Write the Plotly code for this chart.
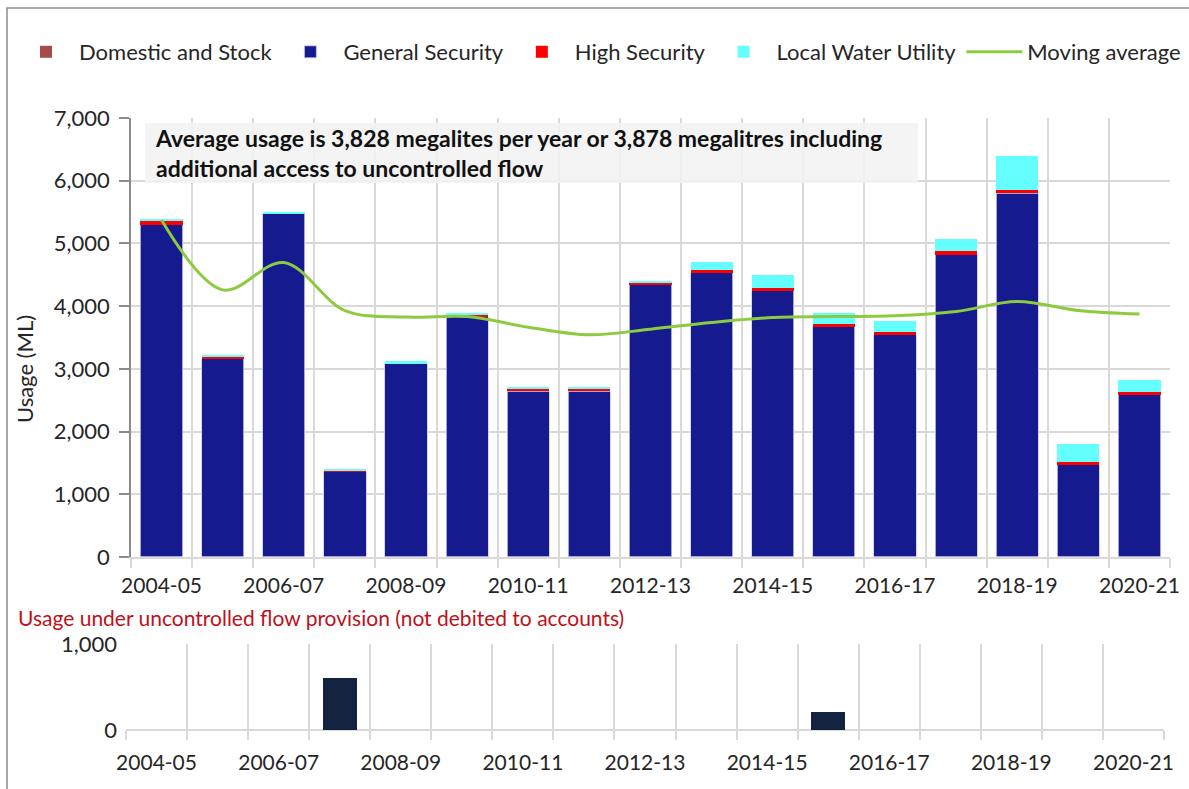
import plotly.graph_objects as go

# ---------------- data ----------------
categories = ["2004-05", "2005-06", "2006-07", "2007-08", "2008-09", "2009-10",
              "2010-11", "2011-12", "2012-13", "2013-14", "2014-15", "2015-16",
              "2016-17", "2017-18", "2018-19", "2019-20", "2020-21"]
domestic_stock = [5, 5, 5, 4, 5, 5, 5, 5, 5, 5, 5, 5, 5, 5, 5, 5, 5]
general_security = [5293, 3160, 5475, 1365, 3080, 3825, 2640, 2640, 4334, 4528,
                    4244, 3666, 3538, 4812, 5799, 1468, 2583]
high_security = [55, 35, 5, 5, 8, 35, 38, 38, 38, 37, 35, 37, 37, 69, 42, 42, 37]
local_water_utility = [35, 15, 20, 25, 30, 20, 20, 20, 20, 127, 215, 186, 186,
                       191, 541, 281, 190]
moving_average = [5375, 4260, 4695, 3930, 3825, 3834, 3665, 3543, 3633, 3740,
                  3818, 3834, 3845, 3914, 4073, 3930, 3873]
uncontrolled_flow = [0, 0, 0, 605, 0, 0, 0, 0, 0, 0, 0, 209, 0, 0, 0, 0, 0]
tick_labels = [c if i % 2 == 0 else "" for i, c in enumerate(categories)]
note_lines = ["Average usage is 3,828 megalites per year or 3,878 megalitres including",
              "additional access to uncontrolled flow"]

# ---------------- layout helpers ----------------
W, H = 1189, 789
def fx(p):
    return p / W
def fy(p):
    return 1 - p / H

FONT = "Lato, Calibri, Arial, sans-serif"
TXT = "#262626"
GRID = "#D9D9D9"

fig = go.Figure()

fig.add_trace(go.Bar(name="Domestic and Stock", x=categories, y=domestic_stock,
                     marker=dict(color="#A94A4A", line=dict(width=0)),
                     xaxis="x", yaxis="y"))
fig.add_trace(go.Bar(name="General Security", x=categories, y=general_security,
                     marker=dict(color="#151A8E", line=dict(width=0.8, color="#C9C9E8")),
                     xaxis="x", yaxis="y"))
fig.add_trace(go.Bar(name="High Security", x=categories, y=high_security,
                     marker=dict(color="#FF0000", line=dict(width=0)),
                     xaxis="x", yaxis="y"))
fig.add_trace(go.Bar(name="Local Water Utility", x=categories, y=local_water_utility,
                     marker=dict(color="#66FFFF", line=dict(width=0)),
                     xaxis="x", yaxis="y"))
fig.add_trace(go.Scatter(name="Moving average", x=categories, y=moving_average,
                         mode="lines", line=dict(color="#8CCB3F", width=3, shape="spline", smoothing=1.0),
                         xaxis="x", yaxis="y"))
fig.add_trace(go.Bar(name="Uncontrolled flow", x=categories, y=uncontrolled_flow,
                     marker=dict(color="#13233F", line=dict(width=0)),
                     width=0.56, showlegend=False, xaxis="x2", yaxis="y2"))

common_x = dict(
    type="category", categoryorder="array", categoryarray=categories,
    range=[-0.5, len(categories) - 0.5], automargin=False,
    tickmode="array", tickvals=categories, ticktext=tick_labels, tickangle=0,
    tickson="boundaries", ticks="outside", ticklen=9, tickcolor=GRID, tickwidth=1.5,
    ticklabelstandoff=9,
    showgrid=True, gridcolor=GRID, gridwidth=1.5,
    showline=True, linecolor=GRID, linewidth=1.5,
    tickfont=dict(family=FONT, size=21, color=TXT),
    fixedrange=True,
)

fig.update_layout(
    template="none",
    width=W, height=H,
    margin=dict(l=0, r=0, t=0, b=0, pad=0, autoexpand=False),
    paper_bgcolor="white", plot_bgcolor="white",
    barmode="stack", bargap=0.31,
    font=dict(family=FONT, size=21, color=TXT),
    xaxis=dict(common_x, domain=[fx(131), fx(1170)], anchor="y"),
    yaxis=dict(domain=[fy(557), fy(118)], range=[0, 7000], anchor="x", automargin=False,
               tickmode="array", tickvals=[0, 1000, 2000, 3000, 4000, 5000, 6000, 7000],
               tickformat=",d", showgrid=True, gridcolor=GRID, gridwidth=1.5,
               showline=True, linecolor="#8C8C8C", linewidth=1.5,
               ticks="outside", ticklen=10, tickcolor="#8C8C8C", tickwidth=1.5,
               zeroline=False, ticklabelstandoff=5, fixedrange=True,
               tickfont=dict(family=FONT, size=22, color=TXT)),
    xaxis2=dict(common_x, domain=[fx(126), fx(1164)], anchor="y2", showline=False,
                ticklabelstandoff=18),
    yaxis2=dict(domain=[fy(730), fy(644)], range=[0, 1000], anchor="x2", automargin=False,
                tickmode="array", tickvals=[0, 1000], tickformat=",d",
                showgrid=True, gridcolor=GRID, gridwidth=1.5, zeroline=True,
                zerolinecolor=GRID, zerolinewidth=1.5, showline=False, ticks="",
                ticklabelstandoff=8, fixedrange=True,
                tickfont=dict(family=FONT, size=22, color=TXT)),
    legend=dict(orientation="h", x=fx(13), y=fy(52), xanchor="left", yanchor="middle",
                font=dict(family=FONT, size=22, color=TXT), bgcolor="rgba(0,0,0,0)",
                traceorder="normal", itemwidth=56),
    showlegend=True,
)

# note box
fig.add_shape(type="rect", xref="paper", yref="paper",
              x0=fx(145), x1=fx(918), y0=fy(183), y1=fy(123),
              line=dict(width=0), fillcolor="rgba(242,242,242,0.88)", layer="above")
fig.add_annotation(
    xref="paper", yref="paper", x=fx(153), y=fy(153), xanchor="left", yanchor="middle",
    text="<br>".join(note_lines), showarrow=False, align="left",
    font=dict(family=FONT, size=23, color="#111111", weight="bold"),
)
fig.add_annotation(
    xref="paper", yref="paper", x=fx(24), y=fy(369), xanchor="center", yanchor="middle",
    text="Usage (ML)", textangle=-90, showarrow=False,
    font=dict(family=FONT, size=22, color=TXT),
)
fig.add_annotation(
    xref="paper", yref="paper", x=fx(16), y=fy(617), xanchor="left", yanchor="middle",
    text="Usage under uncontrolled flow provision (not debited to accounts)",
    showarrow=False, font=dict(family=FONT, size=21, color="#C0101A"),
)
fig.add_shape(type="rect", xref="paper", yref="paper",
              x0=fx(7), x1=1.02, y0=-0.02, y1=fy(8),
              line=dict(color="#8C8C8C", width=1.5), fillcolor="rgba(0,0,0,0)", layer="above")

fig.write_html(
    "out.html",
    config={"displayModeBar": False},
    post_script="document.documentElement.style.margin='0';document.body.style.margin='0';"
                "document.body.style.overflow='hidden';"
                "document.documentElement.style.overflow='hidden';",
)
